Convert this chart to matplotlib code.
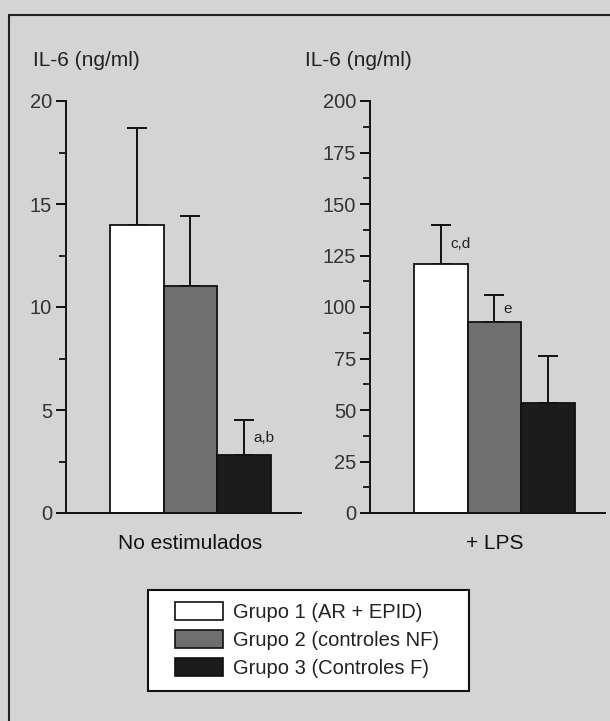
import matplotlib.pyplot as plt
from matplotlib.patches import Patch, Rectangle

plt.rcParams["font.family"] = ["Liberation Sans", "DejaVu Sans"]

grupos = ["Grupo 1 (AR + EPID)", "Grupo 2 (controles NF)", "Grupo 3 (Controles F)"]
colores = ["#ffffff", "#6f6f6f", "#1c1c1c"]

# No estimulados
basal_media = [14.0, 11.0, 2.8]
basal_de = [4.7, 3.4, 1.7]
basal_letras = ["", "", "a,b"]

# + LPS
lps_media = [121, 92.5, 53.5]
lps_de = [19, 13.5, 22.5]
lps_letras = ["c,d", "e", ""]

paneles = [
    ("No estimulados", basal_media, basal_de, basal_letras, 20, 5, 2.5),
    ("+ LPS", lps_media, lps_de, lps_letras, 200, 25, 12.5),
]

bg = "#d4d4d4"
fig = plt.figure(figsize=(6.1, 7.21), dpi=100, facecolor=bg)

W, H = 610, 721
ax_left = [66, 370]
ax_w = 235
ax_bottom = 1 - 513 / H
ax_h = (513 - 101) / H

for i, (nombre, media, de, letras, ymax, paso, menor) in enumerate(paneles):
    ax = fig.add_axes([ax_left[i] / W, ax_bottom, ax_w / W, ax_h])
    ax.set_facecolor("none")
    x = list(range(len(media)))
    ax.bar(x, media, width=1.0, color=colores, edgecolor="#111111", linewidth=1.3,
           zorder=2)
    ax.errorbar(x, media, yerr=[[0] * len(de), de], fmt="none", ecolor="#111111",
                elinewidth=1.4, capsize=7, capthick=1.4, zorder=1)
    for xi, m, d, t in zip(x, media, de, letras):
        if t:
            ax.text(xi + 0.17, m + d * 0.5, t, fontsize=11, color="#222222",
                    ha="left", va="center")
    ax.set_xlim(-1.33, 3.07)
    ax.set_ylim(0, ymax)
    ax.set_yticks([paso * k for k in range(int(ymax / paso) + 1)])
    ax.set_yticks([menor * k for k in range(int(ymax / menor) + 1)], minor=True)
    ax.set_xticks([])
    for s in ["top", "right"]:
        ax.spines[s].set_visible(False)
    for s in ["left", "bottom"]:
        ax.spines[s].set_linewidth(1.4)
        ax.spines[s].set_color("#111111")
    ax.tick_params(axis="y", which="major", length=7, width=1.3, labelsize=14.5,
                   labelcolor="#333333", pad=3)
    ax.tick_params(axis="y", which="minor", length=5, width=1.2)
    ax.text(1, -0.075, nombre, transform=ax.get_xaxis_transform(), ha="center",
            va="center", fontsize=15, color="#111111")

fig.text(33 / W, 1 - 60 / H, "IL-6 (ng/ml)", fontsize=15, color="#222222",
         ha="left", va="center")
fig.text(305 / W, 1 - 60 / H, "IL-6 (ng/ml)", fontsize=15, color="#222222",
         ha="left", va="center")

# marco de la figura
fig.add_artist(Rectangle((9 / W, -0.01), 1.2, 1 - 15 / H + 0.01, transform=fig.transFigure,
                         fill=False, edgecolor="#222222", linewidth=1.5))

# caja de la leyenda
fig.add_artist(Rectangle((148 / W, 1 - 691 / H), (469 - 148) / W, (691 - 590) / H,
                         transform=fig.transFigure, facecolor="white",
                         edgecolor="#111111", linewidth=1.5))

handles = [Patch(facecolor=c, edgecolor="#111111", linewidth=1.2) for c in colores]
leg = fig.legend(handles, grupos, loc="upper left",
                 bbox_to_anchor=(175 / W, 1 - 602 / H),
                 fontsize=14.5, frameon=False,
                 handlelength=2.4, handleheight=1.0, handletextpad=0.5,
                 labelspacing=0.4, borderaxespad=0, borderpad=0)
for t in leg.get_texts():
    t.set_color("#222222")

fig.savefig("out.png", dpi=100, facecolor=bg)
